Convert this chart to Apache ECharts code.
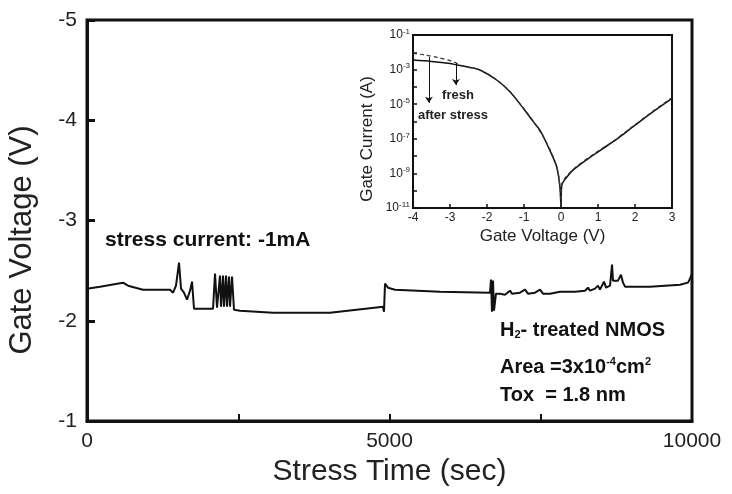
<!DOCTYPE html>
<html>
<head>
<meta charset="utf-8">
<script src="https://cdn.jsdelivr.net/npm/echarts@6/dist/echarts.min.js"></script>
<style>
  html, body { margin: 0; padding: 0; background: #fff; }
  #main { width: 732px; height: 494px; }
</style>
</head>
<body>
<div id="main"></div>
<script>
// main plot: gate voltage during constant current stress
var stressTime = [
  0, 215, 595, 678, 926, 1372, 1422, 1471, 1521, 1554,
  1603, 1653, 1703, 1736, 1769, 2083, 2116, 2149, 2198, 2215,
  2248, 2264, 2298, 2314, 2347, 2364, 2397, 2430, 2529, 3074,
  4017, 4893, 4909, 4926, 4975, 5091, 5835, 6661, 6678, 6694,
  6711, 6727, 6760, 6827, 6909, 6992, 7025, 7157, 7240, 7289,
  7405, 7488, 7537, 7653, 7818, 8066, 8231, 8281, 8314, 8397,
  8446, 8479, 8545, 8579, 8645, 8678, 8694, 8777, 8826, 8860,
  8893, 9306, 9802, 9934, 9967, 10000
];
var gateVoltage = [
  -2.32, -2.34, -2.38, -2.35, -2.31, -2.31, -2.28, -2.35, -2.58, -2.32,
  -2.28, -2.21, -2.30, -2.39, -2.12, -2.12, -2.47, -2.13, -2.45, -2.14,
  -2.45, -2.14, -2.45, -2.14, -2.44, -2.14, -2.44, -2.11, -2.10, -2.08,
  -2.08, -2.14, -2.09, -2.37, -2.33, -2.31, -2.29, -2.28, -2.41, -2.09,
  -2.40, -2.10, -2.27, -2.27, -2.26, -2.30, -2.27, -2.28, -2.31, -2.27,
  -2.28, -2.31, -2.27, -2.27, -2.29, -2.29, -2.30, -2.33, -2.30, -2.32,
  -2.35, -2.31, -2.39, -2.33, -2.35, -2.56, -2.40, -2.40, -2.46, -2.38,
  -2.34, -2.34, -2.36, -2.38, -2.42, -2.47
];

// inset: I-V curves (fresh = solid, after stress = dashed)
var freshVoltage = [-4, -3.5, -3, -2.82, -2.5, -2.19, -1.74, -1.38, -1.02, -0.75, -0.57, -0.39,
  -0.12, -0.03, -0.01, 0, 0.02, 0.1, 0.33, 0.87, 1.41, 1.95, 2.49, 3];
var freshCurrent = [3.55e-3, 2.95e-3, 2.24e-3, 1.86e-3, 1.38e-3, 9.5e-4, 2.5e-4, 5.2e-5, 5.8e-6, 9.8e-7, 3.2e-7, 5.5e-8,
  2.5e-9, 1.7e-10, 3.2e-11, 1e-11, 2.1e-10, 4.2e-10, 1.6e-9, 1.15e-8, 6.8e-8, 5.0e-7, 3.7e-6, 2.2e-5];
var stressedVoltage = [-4, -3.7, -3.35, -2.92, -2.7, -2.5, -2.19, -1.74, -1.38, -1.02, -0.75, -0.39,
  -0.12, -0.03, 0, 0.02, 0.33, 0.87, 1.41, 1.95, 2.49, 3];
var stressedCurrent = [8.7e-3, 7.1e-3, 5.1e-3, 2.9e-3, 1.75e-3, 1.4e-3, 9.6e-4, 2.6e-4, 5.4e-5, 6.1e-6, 1.05e-6, 6.0e-8,
  2.7e-9, 1.9e-10, 1e-11, 2.2e-10, 1.7e-9, 1.25e-8, 7.3e-8, 5.4e-7, 4.0e-6, 2.4e-5];

var mainTicks = [0, 5000, 10000];

function zip(a, b) {
  return a.map(function (v, i) { return [v, b[i]]; });
}

var FONT = "'Liberation Sans', Arial, sans-serif";
var INK = '#111';

var myChart = echarts.init(document.getElementById('main'));

var option = {
  backgroundColor: '#fff',
  animation: false,
  textStyle: { fontFamily: FONT, color: INK },
  grid: [
    { left: 87, top: 20, width: 605, height: 401, show: true, borderColor: INK, borderWidth: 3 },
    { left: 413, top: 35, width: 259, height: 173, show: true, borderColor: INK, borderWidth: 2, backgroundColor: '#fff' }
  ],
  xAxis: [
    {
      gridIndex: 0, type: 'value', min: 0, max: 10000, interval: 2500,
      axisLine: { onZero: false, lineStyle: { color: INK, width: 3 } },
      axisTick: { inside: true, length: 7, lineStyle: { color: INK, width: 2 } },
      splitLine: { show: false },
      axisLabel: {
        fontSize: 21, color: '#222', margin: 10, fontFamily: FONT,
        formatter: function (v) { return mainTicks.indexOf(v) >= 0 ? String(v) : ''; }
      },
      name: 'Stress Time (sec)', nameLocation: 'middle', nameGap: 34,
      nameTextStyle: { fontSize: 30, color: '#222', fontFamily: FONT }
    },
    {
      gridIndex: 1, type: 'value', min: -4, max: 3, interval: 1,
      axisLine: { onZero: false, lineStyle: { color: INK, width: 2 } },
      axisTick: { inside: true, length: 4, lineStyle: { color: INK, width: 1.5 } },
      splitLine: { show: false },
      axisLabel: { fontSize: 12, color: '#222', margin: 4, fontFamily: FONT },
      name: 'Gate Voltage (V)', nameLocation: 'middle', nameGap: 20,
      nameTextStyle: { fontSize: 17, color: '#222', fontFamily: FONT }
    }
  ],
  yAxis: [
    {
      gridIndex: 0, type: 'value', min: -5, max: -1, interval: 1, inverse: true,
      axisLine: { onZero: false, lineStyle: { color: INK, width: 3 } },
      axisTick: { inside: true, length: 8, lineStyle: { color: INK, width: 3 } },
      splitLine: { show: false },
      axisLabel: { fontSize: 21, color: '#222', margin: 10, fontFamily: FONT }
    },
    {
      gridIndex: 1, type: 'log', logBase: 10, min: 1e-11, max: 1e-1, interval: 1,
      axisLine: { onZero: false, lineStyle: { color: INK, width: 2 } },
      axisTick: { inside: true, length: 4, lineStyle: { color: INK, width: 1.5 } },
      splitLine: { show: false },
      axisLabel: {
        margin: 3, color: '#222', fontFamily: FONT,
        formatter: function (v) {
          var e = Math.round(Math.log10(v));
          return e % 2 ? '{b|10}{s|' + e + '}' : '';
        },
        rich: {
          b: { fontSize: 12, fontFamily: FONT, color: '#222' },
          s: { fontSize: 8, fontFamily: FONT, color: '#222', padding: [0, 0, 7, 0] }
        }
      }
    }
  ],
  series: [
    {
      name: 'gate voltage', type: 'line', xAxisIndex: 0, yAxisIndex: 0,
      data: zip(stressTime, gateVoltage),
      showSymbol: false, lineStyle: { color: INK, width: 2 }
    },
    {
      name: 'fresh', type: 'line', xAxisIndex: 1, yAxisIndex: 1,
      data: zip(freshVoltage, freshCurrent),
      showSymbol: false, smooth: 0.3, lineStyle: { color: INK, width: 1.5 },
      markLine: {
        silent: true, symbol: ['none', 'arrow'], symbolSize: 6,
        label: { show: false },
        lineStyle: { color: INK, width: 1, type: 'solid' },
        data: [
          [{ coord: [-2.84, 2.4e-3] }, { coord: [-2.84, 1.3e-4] }],
          [{ coord: [-3.57, 5.4e-3] }, { coord: [-3.57, 1.2e-5] }]
        ]
      }
    },
    {
      name: 'after stress', type: 'line', xAxisIndex: 1, yAxisIndex: 1,
      data: zip(stressedVoltage, stressedCurrent),
      showSymbol: false, smooth: 0.3,
      lineStyle: { color: '#333', width: 1.2, type: [4, 3] }
    }
  ],
  graphic: [
    {
      type: 'text', x: 22, y: 240, rotation: Math.PI / 2,
      style: { text: 'Gate Voltage (V)', font: '31px ' + FONT, fill: '#222', align: 'center', verticalAlign: 'middle' }
    },
    {
      type: 'text', x: 367, y: 139, rotation: Math.PI / 2,
      style: { text: 'Gate Current (A)', font: '17px ' + FONT, fill: '#222', align: 'center', verticalAlign: 'middle' }
    },
    {
      type: 'text', x: 458, y: 95,
      style: { text: 'fresh', font: 'bold 13px ' + FONT, fill: '#222', align: 'center', verticalAlign: 'middle' }
    },
    {
      type: 'text', x: 453, y: 115,
      style: { text: 'after stress', font: 'bold 13px ' + FONT, fill: '#222', align: 'center', verticalAlign: 'middle' }
    },
    {
      type: 'text', x: 105, y: 240,
      style: { text: 'stress current: -1mA', font: 'bold 21px ' + FONT, fill: INK, align: 'left', verticalAlign: 'middle' }
    },
    {
      type: 'text', x: 500, y: 330,
      style: {
        text: 'H{sub|2}- treated NMOS', font: 'bold 20px ' + FONT, fill: INK, align: 'left', verticalAlign: 'middle',
        rich: { sub: { font: 'bold 11px ' + FONT, fill: INK, padding: [10, 0, 0, 0] } }
      }
    },
    {
      type: 'text', x: 500, y: 367,
      style: {
        text: 'Area =3x10{sup|-4}cm{sup|2}', font: 'bold 20px ' + FONT, fill: INK, align: 'left', verticalAlign: 'middle',
        rich: { sup: { font: 'bold 11px ' + FONT, fill: INK, padding: [0, 0, 10, 0] } }
      }
    },
    {
      type: 'text', x: 500, y: 395,
      style: { text: 'Tox  = 1.8 nm', font: 'bold 20px ' + FONT, fill: INK, align: 'left', verticalAlign: 'middle' }
    }
  ]
};

myChart.setOption(option);
</script>
</body>
</html>
